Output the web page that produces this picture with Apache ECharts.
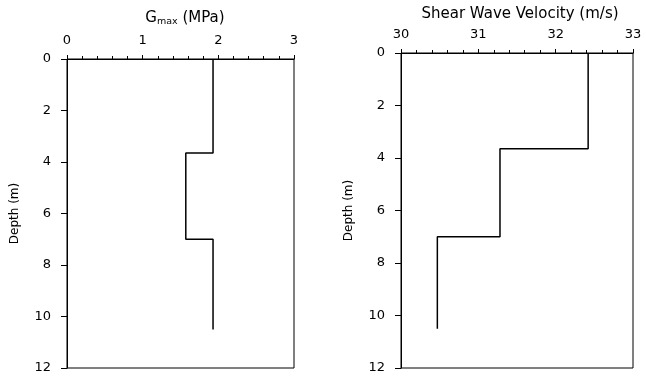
<!DOCTYPE html>
<html>
<head>
<meta charset="utf-8" />
<title>Gmax and shear wave velocity profile</title>
<script src="https://cdn.jsdelivr.net/npm/echarts@6/dist/echarts.min.js"></script>
<style>
  html, body { margin: 0; padding: 0; background: #fff; }
  #chart { width: 646px; height: 383px; }
</style>
</head>
<body>
<div id="chart"></div>
<script>
// layer boundaries (m) and values per layer
var layerTop = [0, 3.65, 7.0];
var layerBottom = [3.65, 7.0, 10.5];
var gmaxVals = [1.93, 1.57, 1.93];   // MPa
var vsVals = [32.42, 31.28, 30.47];  // m/s
var depthTicks = [0, 2, 4, 6, 8, 10, 12];

// step profile: each layer is a vertical segment, joined by horizontal steps
function profile(vals) {
  var pts = [];
  for (var i = 0; i < vals.length; i++) {
    pts.push([vals[i], layerTop[i]]);
    pts.push([vals[i], layerBottom[i]]);
  }
  return pts;
}

var _font = '"DejaVu Sans", Arial, sans-serif';
var _fontSize = 13;

function xAxisOpt(idx, min, max) {
  return {
    gridIndex: idx,
    type: 'value',
    position: 'top',
    min: min,
    max: max,
    interval: 1,
    axisLine: { show: true, onZero: false, lineStyle: { color: '#000', width: 1 } },
    axisTick: { show: true, inside: false, length: 4, lineStyle: { color: '#000' } },
    minorTick: { show: true, splitNumber: 5, length: 3, lineStyle: { color: '#000' } },
    splitLine: { show: false },
    axisLabel: { color: '#000', fontSize: _fontSize, fontFamily: _font, margin: 12 }
  };
}

function yAxisOpt(idx) {
  return {
    gridIndex: idx,
    type: 'value',
    inverse: true,
    min: depthTicks[0],
    max: depthTicks[depthTicks.length - 1],
    interval: 2,
    name: 'Depth (m)',
    nameLocation: 'middle',
    nameGap: 46,
    nameTextStyle: { color: '#000', fontSize: 12, fontFamily: _font },
    axisLine: { show: true, onZero: false, lineStyle: { color: '#000', width: 1 } },
    axisTick: { show: true, length: 6, lineStyle: { color: '#000' } },
    splitLine: { show: false },
    axisLabel: { color: '#000', fontSize: _fontSize, fontFamily: _font, margin: 16 }
  };
}

var myChart = echarts.init(document.getElementById('chart'));
var option = {
  backgroundColor: '#fff',
  animation: false,
  title: [{
    text: '{a|G}{b|max}{a| (MPa)}',
    left: 180,
    top: 4,
    textAlign: 'center',
    textStyle: {
      fontWeight: 'normal',
      rich: {
        a: { fontSize: 15, fontFamily: _font, fontWeight: 'normal', color: '#000', lineHeight: 18 },
        b: { fontSize: 9.5, fontFamily: _font, fontWeight: 'normal', color: '#000', padding: [7, 0, 0, 0], lineHeight: 18 }
      }
    }
  }, {
    text: 'Shear Wave Velocity (m/s)',
    left: 515,
    top: 2,
    textAlign: 'center',
    textStyle: { fontSize: 15, fontFamily: _font, color: '#000', fontWeight: 'normal' }
  }],
  grid: [
    { left: 67, top: 59, width: 227, height: 309, show: true, borderColor: '#000', borderWidth: 1 },
    { left: 401, top: 53, width: 232, height: 315, show: true, borderColor: '#000', borderWidth: 1 }
  ],
  xAxis: [xAxisOpt(0, 0, 3), xAxisOpt(1, 30, 33)],
  yAxis: [yAxisOpt(0), yAxisOpt(1)],
  series: [{
    type: 'line',
    xAxisIndex: 0,
    yAxisIndex: 0,
    data: profile(gmaxVals),
    showSymbol: false,
    lineStyle: { color: '#000', width: 1.5 }
  }, {
    type: 'line',
    xAxisIndex: 1,
    yAxisIndex: 1,
    data: profile(vsVals),
    showSymbol: false,
    lineStyle: { color: '#000', width: 1.5 }
  }]
};
myChart.setOption(option);
</script>
</body>
</html>
